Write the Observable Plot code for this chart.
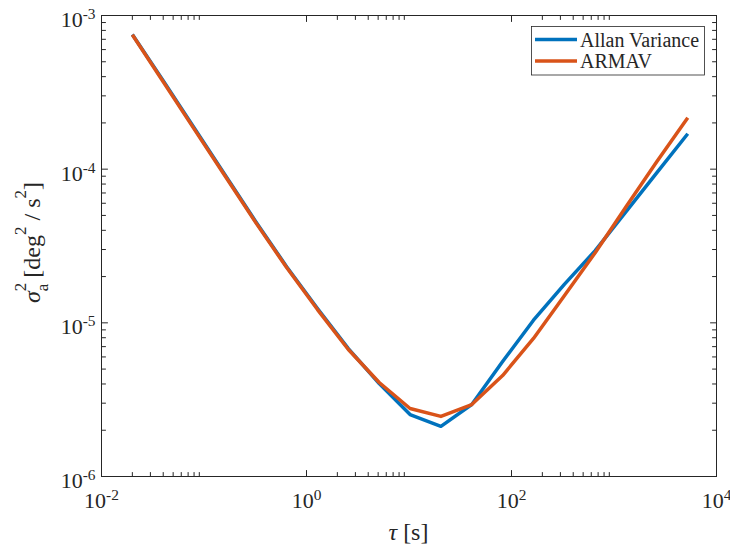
<!DOCTYPE html>
<html><head><meta charset="utf-8">
<script src="https://cdn.jsdelivr.net/npm/d3@7"></script>
<script src="https://cdn.jsdelivr.net/npm/@observablehq/plot@0.6"></script>
<style>html,body{margin:0;padding:0;background:#fff;} svg{display:block} svg text{font-family:"Liberation Serif",serif !important;}</style>
</head><body><div id="chart"></div>
<script>
// ---- data ----
const tau = [0.02, 0.04, 0.08, 0.16, 0.32, 0.64, 1.28, 2.56, 5.12, 10.24, 20.48, 40.96, 81.92, 163.84, 327.68, 655.36, 1310.72, 2621.44, 5242.88];
const allanVariance = [7.52e-4, 3.77e-4, 1.86e-4, 9.2e-5, 4.55e-5, 2.32e-5, 1.24e-5, 6.8e-6, 4.03e-6, 2.53e-6, 2.12e-6, 2.94e-6, 5.6e-6, 1.04e-5, 1.78e-5, 2.95e-5, 5.29e-5, 9.49e-5, 1.70e-4];
const armav = [7.49e-4, 3.71e-4, 1.83e-4, 9.07e-5, 4.49e-5, 2.29e-5, 1.22e-5, 6.71e-6, 4.09e-6, 2.77e-6, 2.46e-6, 2.94e-6, 4.54e-6, 7.91e-6, 1.50e-5, 2.86e-5, 5.70e-5, 1.12e-4, 2.16e-4];
const seriesNames = ["Allan Variance", "ARMAV"];
const seriesColors = ["#0072BD", "#D95319"];
const xTicks = [1e-2, 1e0, 1e2, 1e4];
const yTicks = [1e-6, 1e-5, 1e-4, 1e-3];

// ---- layout ----
const W = 730, H = 548, mL = 101, mR = 14, mT = 15, mB = 72;
const axisColor = "#262626";
const font = "Liberation Serif";

const allanRows = tau.map((t, i) => ({tau: t, v: allanVariance[i], s: seriesNames[0]}));
const armavRows = tau.map((t, i) => ({tau: t, v: armav[i], s: seriesNames[1]}));

const minorOf = ticks => ticks.slice(0, -1).flatMap(d => d3.range(2, 10).map(m => d * m));
const xMinor = minorOf(xTicks), yMinor = minorOf(yTicks);

const tickShape = {draw(ctx, l) { ctx.moveTo(0, 0); ctx.lineTo(0, -l); }};
function tickMarks(xs, ys, len) {
  const common = {length: len, anchor: "start", shape: tickShape, stroke: axisColor, strokeWidth: 1};
  return [
    Plot.vector(xs, {x: d => d, frameAnchor: "bottom", rotate: 0, ...common}),
    Plot.vector(xs, {x: d => d, frameAnchor: "top", rotate: 180, ...common}),
    Plot.vector(ys, {y: d => d, frameAnchor: "left", rotate: 90, ...common}),
    Plot.vector(ys, {y: d => d, frameAnchor: "right", rotate: -90, ...common})
  ];
}
const expFormat = d => "10^" + Math.round(Math.log10(d));

const chart = Plot.plot({
  width: W, height: H,
  marginLeft: mL, marginRight: mR, marginTop: mT, marginBottom: mB,
  style: {fontFamily: font, fontSize: "22px", color: axisColor, background: "white"},
  x: {type: "log", domain: [1e-2, 1e4]},
  y: {type: "log", domain: [1e-6, 1e-3]},
  color: {domain: seriesNames, range: seriesColors},
  marks: [
    Plot.line(allanRows, {x: "tau", y: "v", stroke: "s", strokeWidth: 3.5, strokeLinecap: "butt"}),
    Plot.line(armavRows, {x: "tau", y: "v", stroke: "s", strokeWidth: 3.5, strokeLinecap: "butt"}),
    ...tickMarks(xTicks, yTicks, 6),
    ...tickMarks(xMinor, yMinor, 4),
    Plot.frame({stroke: axisColor, strokeWidth: 1}),
    Plot.axisX({ticks: xTicks, tickSize: 0, tickPadding: 16, tickFormat: expFormat, label: null, fontSize: 22, fill: axisColor}),
    Plot.axisY({ticks: yTicks, tickSize: 0, tickPadding: 6, tickFormat: expFormat, label: null, fontSize: 22, dy: 4.5, fill: axisColor})
  ]
});
document.getElementById("chart").appendChild(chart);

const svg = d3.select(chart);
// superscript exponents in tick labels
svg.selectAll("g[aria-label*='tick label'] text").each(function () {
  const [base, exp] = this.textContent.split("^");
  this.textContent = base;
  d3.select(this).append("tspan").attr("dy", -8).attr("font-size", 15.4).text(exp);
});

// x axis label
const xl = svg.append("text")
  .attr("x", (mL + W - mR) / 2).attr("y", 540)
  .attr("text-anchor", "middle").attr("font-size", 24).attr("fill", axisColor);
xl.append("tspan").attr("font-style", "italic").text("τ");
xl.append("tspan").text(" [s]");

// y axis label
const yl = svg.append("text")
  .attr("transform", `translate(40,${(mT + H - mB) / 2 - 3}) rotate(-90)`)
  .attr("text-anchor", "middle").attr("font-size", 24).attr("fill", axisColor);
yl.append("tspan").attr("font-style", "italic").text("σ");
yl.append("tspan").attr("font-size", 17).attr("dy", -14).text("2");
yl.append("tspan").attr("font-size", 17).attr("dx", -8.5).attr("dy", 22).text("a");
yl.append("tspan").attr("dy", -8).text(" [deg");
yl.append("tspan").attr("font-size", 17).attr("dy", -14).text("2");
yl.append("tspan").attr("dy", 14).text(" / s");
yl.append("tspan").attr("font-size", 17).attr("dy", -14).text("2");
yl.append("tspan").attr("dy", 14).text("]");

// legend
const lg = svg.append("g");
lg.append("rect").attr("x", 531.5).attr("y", 26.5).attr("width", 173).attr("height", 48.5)
  .attr("fill", "white").attr("stroke", axisColor).attr("stroke-width", 0.8);
seriesNames.forEach((n, i) => {
  const y = 39.5 + i * 21.5;
  lg.append("line").attr("x1", 535).attr("x2", 577).attr("y1", y).attr("y2", y)
    .attr("stroke", seriesColors[i]).attr("stroke-width", 3.5);
  lg.append("text").attr("x", 580).attr("y", y + 7).attr("text-anchor", "start")
    .attr("font-size", 20).attr("fill", axisColor).text(n);
});
svg.selectAll("text").style("font-family", "'Liberation Serif', serif");
</script>
</body></html>
